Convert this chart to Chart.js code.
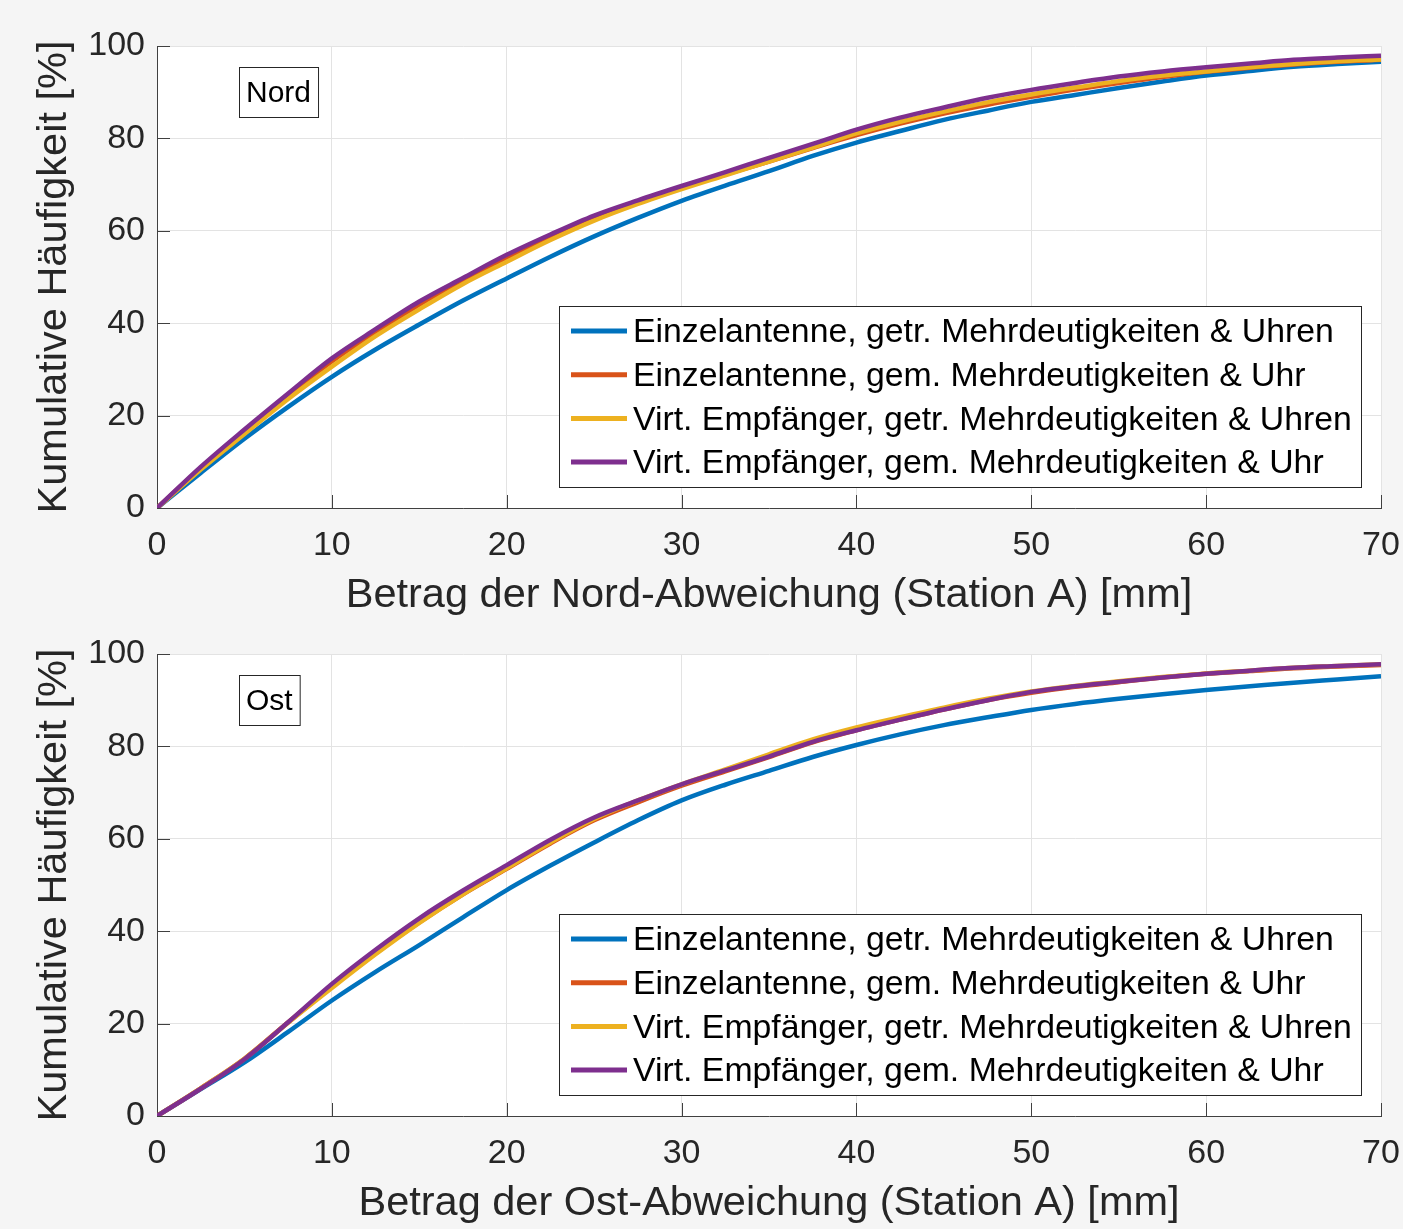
<!DOCTYPE html>
<html>
<head>
<meta charset="utf-8">
<script src="https://cdn.jsdelivr.net/npm/chart.js@4.4.1/dist/chart.umd.min.js"></script>
<style>
html,body{margin:0;padding:0;background:#f5f5f5;}
body{width:1403px;height:1229px;position:relative;overflow:hidden;}
.plot{position:absolute;left:0;width:1403px;height:620px;}
</style>
</head>
<body>
<div class="plot" style="top:0px"><canvas id="nordChart" width="1403" height="620"></canvas></div>
<div class="plot" style="top:608px"><canvas id="ostChart" width="1403" height="620"></canvas></div>
<script>
// x values in mm (shared by all curves)
const xValues = [0,2.5,5,7.5,10,12.5,15,17.5,20,22.5,25,27.5,30,32.5,35,37.5,40,42.5,45,47.5,50,52.5,55,57.5,60,62.5,65,67.5,70];

const seriesLabels = [
    "Einzelantenne, getr. Mehrdeutigkeiten & Uhren",
    "Einzelantenne, gem. Mehrdeutigkeiten & Uhr",
    "Virt. Empfänger, getr. Mehrdeutigkeiten & Uhren",
    "Virt. Empfänger, gem. Mehrdeutigkeiten & Uhr"
];
const seriesColors = ["#0072BD","#D95319","#EDB120","#7E2F8E"];

// ----- Nord -----
const nordEinzelGetr = [0,7.6,15.0,21.9,28.4,34.3,39.7,44.9,49.7,54.4,58.8,62.8,66.5,69.8,72.9,76.2,79.1,81.6,84.0,86.0,87.9,89.4,90.9,92.3,93.6,94.6,95.5,96.1,96.6];
const nordEinzelGem  = [0,8.6,16.5,24.2,31.7,38.0,44.0,49.3,54.2,58.7,62.8,66.2,69.3,72.2,75.0,77.9,80.7,83.2,85.4,87.3,89.0,90.6,92.0,93.3,94.4,95.3,96.0,96.6,97.0];
const nordVirtGetr   = [0,8.3,16.0,23.6,30.6,37.2,43.0,48.5,53.3,58.0,62.2,65.8,69.0,72.0,75.0,78.0,81.1,83.6,85.8,87.8,89.5,91.0,92.4,93.6,94.5,95.4,96.1,96.7,97.1];
const nordVirtGem    = [0,8.9,17.0,24.8,32.4,38.7,44.7,49.8,54.8,59.2,63.3,66.6,69.7,72.7,75.8,78.8,81.9,84.5,86.7,88.8,90.5,92.0,93.4,94.5,95.4,96.2,97.0,97.5,97.9];

// ----- Ost -----
const ostEinzelGetr = [0,5.8,11.6,18.2,25.0,31.2,37.0,43.0,48.9,54.2,59.2,64.0,68.3,71.7,74.7,77.7,80.3,82.6,84.6,86.3,87.9,89.2,90.3,91.3,92.2,93.0,93.8,94.5,95.2];
const ostEinzelGem  = [0,6.0,12.4,20.3,28.0,35.2,41.9,48.0,53.5,59.0,64.0,67.9,71.5,74.6,77.7,80.9,83.5,85.8,88.0,90.0,91.6,92.9,93.9,94.9,95.7,96.3,96.9,97.3,97.6];
const ostVirtGetr   = [0,6.0,12.4,20.2,27.7,35.0,41.8,48.0,53.6,59.2,64.3,68.3,71.8,75.0,78.3,81.5,84.1,86.3,88.4,90.3,91.9,93.1,94.1,95.0,95.8,96.4,97.0,97.4,97.8];
const ostVirtGem    = [0,5.9,12.3,20.3,28.6,36.0,42.8,48.8,54.3,59.8,64.6,68.3,71.8,74.8,77.8,81.0,83.5,85.8,88.0,90.0,91.8,93.0,94.0,94.9,95.7,96.4,97.0,97.4,97.8];

const FONT = "'Liberation Sans', Arial, Helvetica, sans-serif";
const AXIS_TEXT = "#262626";

// white axes background
const axesBackground = {
    id: "axesBackground",
    beforeDraw(chart){
        const a = chart.chartArea, ctx = chart.ctx;
        ctx.save();
        ctx.fillStyle = "#ffffff";
        ctx.fillRect(a.left, a.top, a.right - a.left, a.bottom - a.top);
        ctx.restore();
    }
};

// MATLAB-like inward tick marks on left and bottom axes
const innerTicks = {
    id: "innerTicks",
    beforeDatasetsDraw(chart){
        const ctx = chart.ctx, a = chart.chartArea;
        const xs = chart.scales.x, ys = chart.scales.y;
        ctx.save();
        ctx.strokeStyle = "#404040";
        ctx.lineWidth = 1;
        ctx.beginPath();
        ys.ticks.forEach(t => {
            const p = Math.round(ys.getPixelForValue(t.value)) + 0.5;
            ctx.moveTo(a.left, p);
            ctx.lineTo(a.left + 13, p);
        });
        xs.ticks.forEach(t => {
            const p = Math.round(xs.getPixelForValue(t.value)) + 0.5;
            ctx.moveTo(p, a.bottom);
            ctx.lineTo(p, a.bottom - 13);
        });
        ctx.stroke();
        ctx.restore();
    }
};

// boxed legend in the lower right of the axes
const boxLegend = {
    id: "boxLegend",
    afterDatasetsDraw(chart){
        const ctx = chart.ctx, a = chart.chartArea;
        const boxW = 802, boxH = 181;
        const x0 = a.right - 20 - boxW, y0 = a.bottom - 21 - boxH;
        ctx.save();
        ctx.fillStyle = "#ffffff";
        ctx.fillRect(x0, y0, boxW, boxH);
        ctx.strokeStyle = "#262626";
        ctx.lineWidth = 1;
        ctx.strokeRect(x0 + 0.5, y0 + 0.5, boxW, boxH);
        ctx.font = "33.8px " + FONT;
        ctx.textBaseline = "middle";
        ctx.textAlign = "left";
        chart.data.datasets.forEach((ds, i) => {
            const y = y0 + 25 + i * 43.7;
            ctx.strokeStyle = ds.borderColor;
            ctx.lineWidth = 5;
            ctx.beginPath();
            ctx.moveTo(x0 + 12, y);
            ctx.lineTo(x0 + 68, y);
            ctx.stroke();
            ctx.fillStyle = "#000000";
            ctx.fillText(ds.label, x0 + 74, y + 2);
        });
        ctx.restore();
    }
};

// small boxed tag (Nord / Ost)
const tagBox = {
    id: "tagBox",
    afterDatasetsDraw(chart, args, opts){
        const ctx = chart.ctx, a = chart.chartArea;
        ctx.save();
        ctx.font = "30px " + FONT;
        const w = ctx.measureText(opts.text).width + 14;
        const x0 = a.left + 82, y0 = a.top + 21, h = 50;
        ctx.fillStyle = "#ffffff";
        ctx.fillRect(x0, y0, w, h);
        ctx.strokeStyle = "#262626";
        ctx.lineWidth = 1;
        ctx.strokeRect(x0 + 0.5, y0 + 0.5, w, h);
        ctx.fillStyle = "#000000";
        ctx.textBaseline = "middle";
        ctx.fillText(opts.text, x0 + 7, y0 + h / 2 + 2);
        ctx.restore();
    }
};

function makeChart(canvasId, curves, xTitle, tag){
    const ctx = document.getElementById(canvasId).getContext("2d");
    return new Chart(ctx, {
        type: "line",
        data: {
            datasets: curves.map((vals, i) => ({
                label: seriesLabels[i],
                data: xValues.map((x, j) => ({x: x, y: vals[j]})),
                borderColor: seriesColors[i],
                backgroundColor: seriesColors[i],
                borderWidth: 4.5,
                pointRadius: 0,
                fill: false,
                cubicInterpolationMode: "monotone",
                order: 4 - i
            }))
        },
        options: {
            responsive: false,
            animation: false,
            layout: {padding: {top: 46, right: 22, left: 0, bottom: 0}},
            plugins: {
                legend: {display: false},
                tooltip: {enabled: false},
                tagBox: {text: tag}
            },
            scales: {
                x: {
                    type: "linear",
                    min: 0, max: 70,
                    afterFit: s => { s.height = 112; s.paddingLeft = 0; s.paddingRight = 0; },
                    ticks: {stepSize: 10, color: AXIS_TEXT, padding: 17, maxRotation: 0,
                            font: {family: FONT, size: 34}},
                    grid: {color: "#e3e3e3", lineWidth: 1, drawTicks: false},
                    border: {color: "#404040", width: 1},
                    title: {display: true, text: xTitle, color: AXIS_TEXT,
                            font: {family: FONT, size: 41.5, lineHeight: 1},
                            padding: {top: 0, bottom: 4}}
                },
                y: {
                    min: 0, max: 100,
                    afterFit: s => { s.width = 157; s.paddingTop = 0; s.paddingBottom = 0; },
                    ticks: {stepSize: 20, color: AXIS_TEXT, padding: 12,
                            font: {family: FONT, size: 34}},
                    grid: {color: "#e3e3e3", lineWidth: 1, drawTicks: false},
                    border: {color: "#404040", width: 1},
                    title: {display: true, text: "Kumulative Häufigkeit [%]", color: AXIS_TEXT,
                            font: {family: FONT, size: 41.5, lineHeight: 1},
                            padding: {top: 34, bottom: 0}}
                }
            }
        },
        plugins: [axesBackground, innerTicks, boxLegend, tagBox]
    });
}

makeChart("nordChart", [nordEinzelGetr, nordEinzelGem, nordVirtGetr, nordVirtGem],
          "Betrag der Nord-Abweichung (Station A) [mm]", "Nord");
makeChart("ostChart", [ostEinzelGetr, ostEinzelGem, ostVirtGetr, ostVirtGem],
          "Betrag der Ost-Abweichung (Station A) [mm]", "Ost");
</script>
</body>
</html>
